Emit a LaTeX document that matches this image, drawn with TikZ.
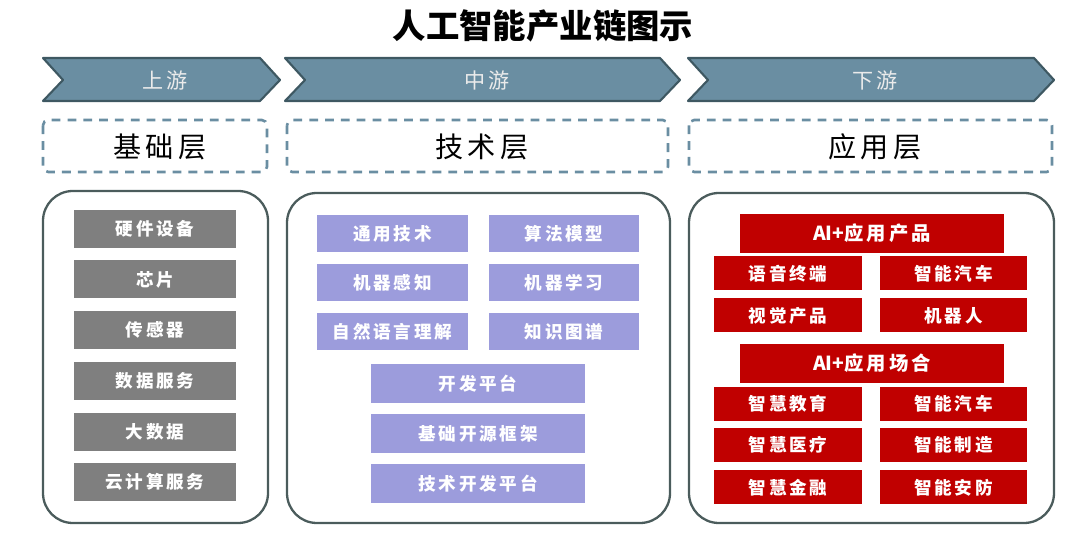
\documentclass[tikz,border=0pt]{standalone}
\usepackage{fontspec}
\setmainfont{Noto Sans CJK SC}
\newfontfamily\spacedfont[LetterSpace=16]{Noto Sans CJK SC}
\usepackage{tikz}
\definecolor{chevfill}{HTML}{6A8EA2}
\definecolor{chevline}{HTML}{3E5862}
\definecolor{panelline}{HTML}{4B5C5C}
\definecolor{basegray}{HTML}{7F7F7F}
\definecolor{techpurple}{HTML}{9C9CDC}
\definecolor{appred}{HTML}{C00000}

\begin{document}
\begin{tikzpicture}[x=0.02cm,y=-0.02cm,
  chevron/.style={fill=chevfill,draw=chevline,line width=1.2pt,line join=round},
  chevtext/.style={text=white!92!black,font=\spacedfont\fontsize{12}{14}\selectfont},
  layer/.style={draw=chevfill,line width=1.5pt,dash pattern=on 5pt off 4pt,rounded corners=3pt},
  layertext/.style={font=\spacedfont\fontsize{16}{18}\selectfont},
  panel/.style={draw=panelline,line width=1.3pt,rounded corners=17pt},
  item/.style={inner sep=0pt,outer sep=0pt,text=white,font=\spacedfont\bfseries\fontsize{10}{12}\selectfont},
  base/.style={item,fill=basegray,minimum width=3.24cm,minimum height=0.76cm},
  tech/.style={item,fill=techpurple,minimum width=3.02cm,minimum height=0.74cm},
  techwide/.style={item,fill=techpurple,minimum width=4.28cm,minimum height=0.78cm},
  apphead/.style={item,fill=appred,minimum width=5.28cm,minimum height=0.78cm,font=\spacedfont\bfseries\fontsize{11}{13}\selectfont},
  app/.style={item,fill=appred,minimum width=2.96cm,minimum height=0.68cm}]
\useasboundingbox (0,0) rectangle (1080,546);

\node[font=\bfseries\fontsize{19}{22}\selectfont] (title) at (543,26) {人工智能产业链图示};

\draw[chevron] (43,58) -- (260,58) -- (280,80) -- (260,101) -- (43,101) -- (63,80) -- cycle;
\draw[chevron] (285,58) -- (660,58) -- (680,80) -- (660,101) -- (285,101) -- (305,80) -- cycle;
\draw[chevron] (688,58) -- (1034,58) -- (1054,80) -- (1034,101) -- (688,101) -- (708,80) -- cycle;
\node[chevtext] (up) at (165,80) {上游};
\node[chevtext] (mid) at (487,80) {中游};
\node[chevtext] (down) at (875,80) {下游};

\draw[layer] (43,120) rectangle (267,172);
\draw[layer] (287,120) rectangle (668,172);
\draw[layer] (689,120) rectangle (1052,172);
\node[layertext] (baselayer) at (160,147) {基础层};
\node[layertext] (techlayer) at (482,147) {技术层};
\node[layertext] (applayer) at (875,147) {应用层};

\draw[panel] (43,191) rectangle (268,523);
\draw[panel] (287,193) rectangle (670,523);
\draw[panel] (689,193) rectangle (1054,523);

\node[base] (hw) at (155,229) {硬件设备};
\node[base] (chip) at (155,279.5) {芯片};
\node[base] (sensor) at (155,330) {传感器};
\node[base] (datasvc) at (155,381) {数据服务};
\node[base] (bigdata) at (155,432) {大数据};
\node[base] (cloud) at (155,482) {云计算服务};

\node[tech] (general) at (392.5,233.5) {通用技术};
\node[tech] (algo) at (564,233.5) {算法模型};
\node[tech] (percept) at (392.5,282.5) {机器感知};
\node[tech] (ml) at (564,282.5) {机器学习};
\node[tech] (nlp) at (392.5,331.5) {自然语言理解};
\node[tech] (kg) at (564,331.5) {知识图谱};
\node[techwide] (devplat) at (478,383.5) {开发平台};
\node[techwide] (framework) at (478,433.5) {基础开源框架};
\node[techwide] (techplat) at (478,483.5) {技术开发平台};

\node[apphead] (products) at (872,233.5) {{\rmfamily\bfseries AI+}应用产品};
\node[app] (voice) at (788,273.5) {语音终端};
\node[app] (car) at (953.5,273.5) {智能汽车};
\node[app] (vision) at (788,315.5) {视觉产品};
\node[app] (robot) at (953.5,315.5) {机器人};
\node[apphead] (scenes) at (872,363.5) {{\rmfamily\bfseries AI+}应用场合};
\node[app] (edu) at (788,404) {智慧教育};
\node[app] (car2) at (953.5,404) {智能汽车};
\node[app] (medical) at (788,445) {智慧医疗};
\node[app] (manuf) at (953.5,445) {智能制造};
\node[app] (finance) at (788,487.5) {智慧金融};
\node[app] (security) at (953.5,487.5) {智能安防};
\end{tikzpicture}
\end{document}
